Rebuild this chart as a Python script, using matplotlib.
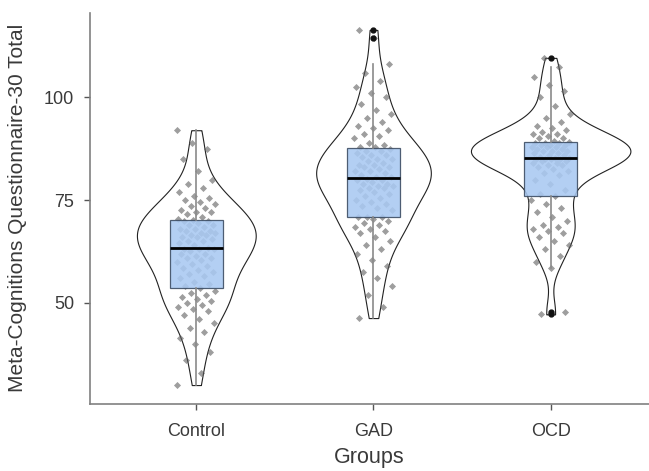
import matplotlib
matplotlib.use("Agg")
import matplotlib.pyplot as plt
import numpy as np

plt.rcParams['font.family'] = ['Liberation Sans', 'DejaVu Sans']

groups = ["Control", "GAD", "OCD"]

control = [30, 33, 36, 38, 40, 41.5, 43, 44, 45, 46, 47, 48, 48.5, 49, 49.5, 50, 50.5, 51, 51.5, 52,
           52.5, 53, 53.5,
           54, 54.5, 55, 56, 56.5, 57, 57.5, 58, 58.5, 59, 59.5, 60, 60.5, 61, 61, 61.5, 62, 62, 62.5,
           63, 63, 63.2,
           63.4, 64, 64.5, 65, 65, 65.5, 66, 66, 66.5, 66.5, 67, 67, 67.5, 67.5, 68, 68, 68.5, 69, 69,
           69.5, 70, 70,
           70.2, 70.5, 71, 71.5, 72, 72, 72.5, 73, 73.5, 74, 74.5, 75, 75.5, 76, 77, 78, 79, 80, 82, 85,
           87.5, 89, 92]

gad = [46.3, 49, 52, 54, 56, 57.5, 59, 60.5, 62, 63, 64, 65, 66, 67, 67.5, 68, 68.5, 69, 69.5, 70,
       70.5, 71,
       70.8, 71, 72.5, 73, 73.5, 74, 74.5, 75, 75.5, 76, 76.5, 77, 77.5, 78, 78, 78.5, 78.5, 79, 79,
       79.5, 80, 80,
       80.2, 80.5, 80.5, 81, 81.5, 82, 82, 82.5, 83, 83, 83.5, 83.5, 84, 84.5, 85, 85, 85.5, 86, 86,
       86.5, 87, 87, 87.5, 87.8,
       88, 88.5, 89, 90, 90.5, 91, 92, 92.5, 93, 94, 95, 96, 97, 98.5, 100, 101, 102.5, 104, 106, 108,
       114.5, 116.4]

ocd = [47.2, 47.8, 58.5, 60, 61.5, 63, 64, 65, 66, 67, 67.5, 68, 68.5, 69, 70, 71, 72, 73, 74, 75, 76,
       76.4, 77.5, 79, 80, 81, 81.5, 82, 82.5, 83, 83.5, 83.5, 84, 84, 84.5, 84.5, 85, 85, 85, 85.1, 85.2,
       85.3, 85.5, 86, 86, 86.5, 86.5, 87, 87, 87, 87.5, 87.5, 88, 88, 88, 88.5, 88.5, 88.5, 89, 89, 89,
       89.2, 89.5, 90, 90, 90.5, 91, 91, 91.5, 92, 92.5, 93, 94, 95, 96, 98, 100, 101.5, 103, 105, 107.4,
       109.6]

data = [np.array(control), np.array(gad), np.array(ocd)]
yticks = [50, 75, 100]


def kde_nrd0(x, grid):
    # same bandwidth rule as R's bw.nrd0
    sd = np.std(x, ddof=1)
    iqr = np.subtract(*np.percentile(x, [75, 25]))
    bw = 0.9 * min(sd, iqr / 1.34) * len(x) ** -0.2
    z = (grid[:, None] - x[None, :]) / bw
    return np.exp(-0.5 * z ** 2).sum(axis=1) / (len(x) * bw * np.sqrt(2 * np.pi))


fig = plt.figure(figsize=(6.49, 4.71), dpi=100)
ax = fig.add_axes([0.1387, 0.1423, 0.8613, 0.8308])

# violins, scaled by count
grids, dens = [], []
for d in data:
    g = np.linspace(d.min(), d.max(), 512)
    grids.append(g)
    dens.append(kde_nrd0(d, g) * len(d))
peak = max(k.max() for k in dens)
for i, (g, k) in enumerate(zip(grids, dens)):
    w = k / peak * 0.45
    ax.fill_betweenx(g, i - w, i + w, facecolor='white', edgecolor='#222222', linewidth=0.8, zorder=1)

# jittered points
for i, d in enumerate(data):
    idx = np.arange(len(d))
    jit = ((idx * 0.6180339887 + 0.13 * i) % 1 - 0.5) * 0.22
    ax.scatter(i + jit, d, marker='D', s=13, color='#5e5e5e', alpha=0.6, linewidths=0, zorder=2)

# boxes
bp = ax.boxplot(data, positions=range(3), widths=0.3, patch_artist=True, whis=1.5,
                manage_ticks=False, zorder=3)
for b in bp['boxes']:
    b.set_facecolor('#a9c9f2')
    b.set_alpha(0.88)
    b.set_edgecolor('#3a4a60')
    b.set_linewidth(0.9)
for m in bp['medians']:
    m.set_color('black')
    m.set_linewidth(2)
for wl in bp['whiskers']:
    wl.set_color('#8a8a8a')
    wl.set_linewidth(1.2)
for c in bp['caps']:
    c.set_visible(False)
for f in bp['fliers']:
    f.set_marker('o')
    f.set_markersize(3.5)
    f.set_markerfacecolor('#111111')
    f.set_markeredgecolor('#111111')

ax.set_xlim(-0.6, 2.555)
ax.set_ylim(25.4, 120.6)
ax.set_xticks(range(3))
ax.set_xticklabels(groups)
ax.set_yticks(yticks)
ax.tick_params(colors='#555555', labelcolor='#3a3a3a', labelsize=13, length=4.5, width=1)
ax.tick_params(axis='x', pad=9)
ax.tick_params(axis='y', pad=7)
ax.set_xlabel("Groups", fontsize=15.5, color='#3a3a3a', labelpad=5)
ax.set_ylabel("Meta-Cognitions Questionnaire-30 Total", fontsize=15, color='#3a3a3a', labelpad=12)
for s in ['top', 'right']:
    ax.spines[s].set_visible(False)
for s in ['left', 'bottom']:
    ax.spines[s].set_color('#808080')
    ax.spines[s].set_linewidth(1.2)

fig.savefig("out.png", dpi=100)
